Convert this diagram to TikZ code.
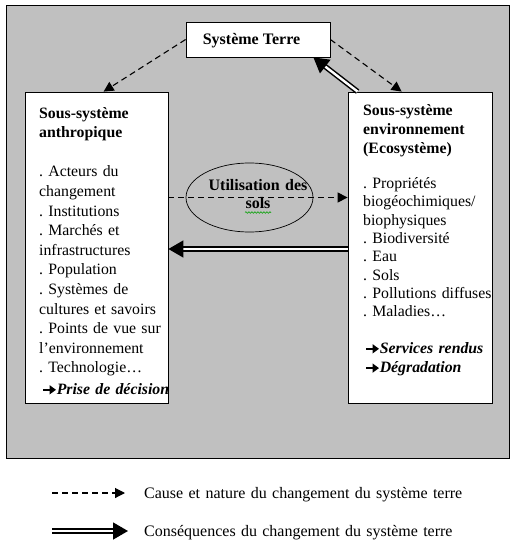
\documentclass[tikz,border=0pt]{standalone}
\usepackage{fontspec}
\setmainfont{Liberation Serif}
\usetikzlibrary{arrows.meta,shapes.geometric,decorations.pathmorphing}
\definecolor{bggray}{HTML}{C0C0C0}
\definecolor{spellgreen}{HTML}{00A000}
\newcommand{\rarr}{\tikz[baseline=0pt]\draw[line width=1.6pt,-{Triangle[length=6.5pt,width=9pt]}] (0pt,4.2pt) -- (13pt,4.2pt);}
\frenchspacing
\begin{document}
\begin{tikzpicture}[x=1pt,y=-1pt,
  sysbox/.style={draw,fill=white,line width=0.8pt,inner sep=0},
  txt/.style={inner sep=0,anchor=base west,text width=140pt,align=left},
  dasharrow/.style={line width=1.1pt,dash pattern=on 6pt off 4pt,-{Triangle[length=10pt,width=10pt]}},
  dblarrow/.style={double,line width=1.5pt,double distance=2.4pt,-{Triangle[length=15pt,width=17pt]}}]
\useasboundingbox (0,0) rectangle (516,543);
% background panel
\draw[fill=bggray,line width=0.8pt] (6.5,5.5) rectangle (509.5,458.5);
% boxes
\node[sysbox,minimum width=144pt,minimum height=35pt] (st) at (258,39.5) {};
\node[sysbox,minimum width=143pt,minimum height=311pt] (lb) at (96.5,247.5) {};
\node[sysbox,minimum width=144pt,minimum height=311pt] (rb) at (420,247.5) {};
\node[draw,ellipse,line width=0.7pt,minimum width=127pt,minimum height=69pt,inner sep=0] (us) at (249.5,197.5) {};
% texts
\node[inner sep=0,anchor=base,font=\bfseries\fontsize{16}{19}\selectfont] (stt) at (251.5,45) {Système Terre};
\node[txt,font=\fontsize{15.8}{19.6}\selectfont] (lt) at (39,118)
 {\textbf{Sous-système}\\ \textbf{anthropique}\\ \mbox{}\\ . Acteurs du\\ changement\\ . Institutions\\ . Marchés et\\ infrastructures\\ . Population\\ . Systèmes de\\ cultures et savoirs\\ . Points de vue sur\\ l’environnement\\ . Technologie…};
\node[txt,font=\bfseries\itshape\fontsize{15.8}{19.6}\selectfont] (pd) at (42,394) {\rarr Prise de décision};
\node[txt,font=\bfseries\fontsize{15.8}{19.3}\selectfont] (rt) at (363,115)
 {Sous-système\\ environnement\\ (Ecosystème)};
\node[txt,font=\fontsize{15.8}{18.3}\selectfont] (ri) at (363,188.5)
 {. Propriétés\\ biogéochimiques/\\ biophysiques\\ . Biodiversité\\ . Eau\\ . Sols\\ . Pollutions diffuses\\ . Maladies…};
\node[txt,font=\bfseries\itshape\fontsize{15.8}{19.3}\selectfont] (rs) at (365,353)
 {\rarr Services rendus\\ \rarr Dégradation};
\node[inner sep=0,anchor=base,text width=120pt,align=center,font=\bfseries\fontsize{16}{18}\selectfont] (ust) at (258,190) {Utilisation des\\ sols};
\draw[spellgreen,line width=0.6pt,decorate,decoration={snake,amplitude=0.8pt,segment length=3pt}] (245,212.5) -- (271,212.5);
% connectors
\coordinate (lbin) at ([xshift=79pt]lb.north west);
\coordinate (rbin) at ([xshift=54pt]rb.north west);
\coordinate (rbout) at ([xshift=10pt]rb.north west);
\coordinate (stin) at ([xshift=-17pt]st.south east);
\draw[dasharrow] (st.west) -- (lbin);
\draw[dasharrow] (st.east) -- (rbin);
\draw[dblarrow] (rbout) -- (stin);
\draw[dasharrow] (lb.east |- us.center) -- (rb.west |- us.center);
\draw[dblarrow] ([yshift=-1.5pt]rb.west) -- ([yshift=-1.5pt]lb.east);
% legend
\node[txt,text width=320pt,font=\fontsize{16}{19}\selectfont] (leg1) at (144,498) {Cause et nature du changement du système terre};
\node[txt,text width=320pt,font=\fontsize{16}{19}\selectfont] (leg2) at (144,536) {Conséquences du changement du système terre};
\coordinate (l1s) at (52,493);
\coordinate (l2s) at (52,531);
\draw[dasharrow] (l1s) -- ([xshift=-19pt,yshift=5pt]leg1.base west);
\draw[dblarrow] (l2s) -- ([xshift=-16pt,yshift=5pt]leg2.base west);
\end{tikzpicture}
\end{document}
